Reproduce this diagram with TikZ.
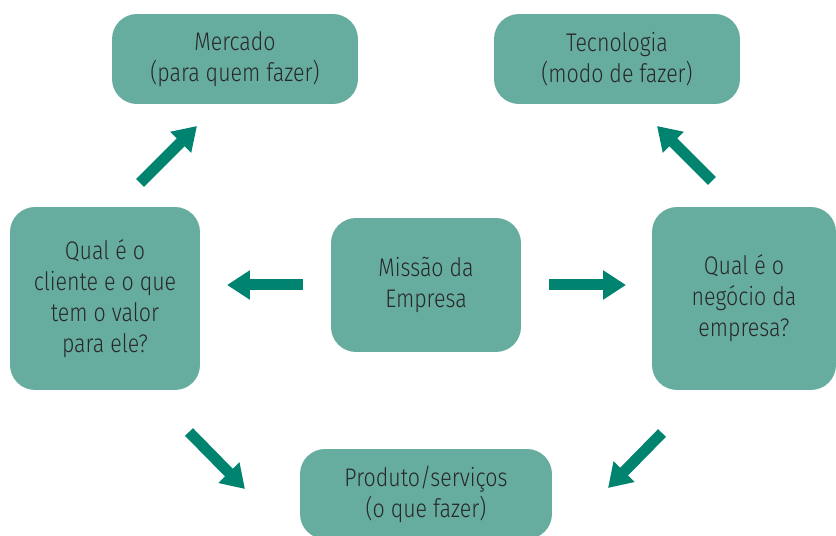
\documentclass[tikz,border=0pt]{standalone}
\usepackage{fontspec}
\setmainfont{Fira Sans Light}[FakeStretch=0.84]
\usepackage{tikz}
\usetikzlibrary{arrows.meta}
\definecolor{boxfill}{RGB}{102,173,160}
\definecolor{arrowgreen}{RGB}{0,131,111}
\definecolor{txtgray}{RGB}{40,40,40}

\begin{document}
\begin{tikzpicture}[x=0.02cm,y=-0.02cm]
\tikzset{box/.style={fill=boxfill,rounded corners=0.5cm,align=center,text=txtgray,inner sep=0pt,
                     font=\fontsize{14.5}{17.6}\selectfont},
         seta/.style={draw=arrowgreen,line width=0.22cm,
                     -{Triangle[width=0.56cm,length=0.46cm]}}}
	% \draw[help lines] (0,0) grid (836,536);
    \useasboundingbox (0,0) rectangle (836,536);
    \clip (0,0) rectangle (836,536);
    \node[box,minimum width=4.92cm,minimum height=1.8cm] (mercado) at (235,59) {Mercado\\(para quem fazer)};
    \node[box,minimum width=4.92cm,minimum height=1.8cm] (tecnologia) at (617,59) {Tecnologia\\(modo de fazer)};
    \node[box,minimum width=3.8cm,minimum height=3.66cm] (cliente) at (105,298.5) {Qual é o\\cliente e o que\\tem o valor\\para ele?};
    \node[box,minimum width=3.8cm,minimum height=2.68cm] (missao) at (426,285) {Missão da\\Empresa};
    \node[box,minimum width=3.68cm,minimum height=3.66cm] (negocio) at (744,298.5) {Qual é o\\negócio da\\empresa?};
    \node[box,minimum width=5.04cm,minimum height=1.8cm] (produto) at (426,494) {Produto/serviços\\(o que fazer)};
    % pontas das setas
    \coordinate (s1a) at (140,183); \coordinate (s1b) at (197,126);
    \coordinate (s2a) at (712,181); \coordinate (s2b) at (657,126);
    \coordinate (s3a) at (303,285); \coordinate (s3b) at (227,285);
    \coordinate (s4a) at (549,285); \coordinate (s4b) at (626,285);
    \coordinate (s5a) at (189,432); \coordinate (s5b) at (245,489);
    \coordinate (s6a) at (662,433); \coordinate (s6b) at (608,488);
    \foreach \a/\b in {s1a/s1b,s2a/s2b,s3a/s3b,s4a/s4b,s5a/s5b,s6a/s6b}
        \draw[seta] (\a) -- (\b);
\end{tikzpicture}
\end{document}
